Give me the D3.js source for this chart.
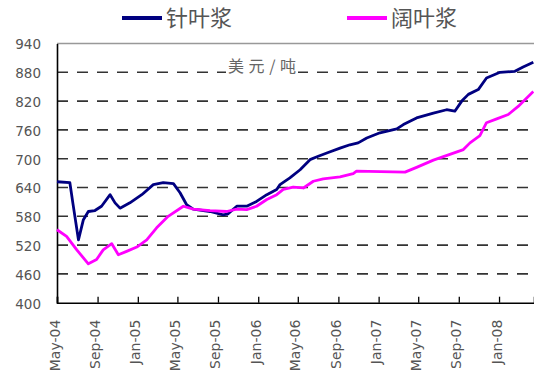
<!DOCTYPE html>
<html><head><meta charset="utf-8">
<script src="https://cdn.jsdelivr.net/npm/d3@7"></script>
<style>html,body{margin:0;padding:0;background:#fff;}svg{display:block;}</style>
</head><body>
<svg id="c" width="534" height="375"></svg>
<script>
// ---- data ----
const seriesNames = ["针叶浆", "阔叶浆"];
const unitLabel = "美元/吨";
const yTicks = [400, 460, 520, 580, 640, 700, 760, 820, 880, 940];
const xTickDates = ["2004-05-01","2004-09-01","2005-01-01","2005-05-01","2005-09-01","2006-01-01","2006-05-01","2006-09-01","2007-01-01","2007-05-01","2007-09-01","2008-01-01"];
const xTickLabels = ["May-04","Sep-04","Jan-05","May-05","Sep-05","Jan-06","May-06","Sep-06","Jan-07","May-07","Sep-07","Jan-08"];
const softwoodDates = ["2004-05-01","2004-06-09","2004-06-18","2004-07-05","2004-07-20","2004-08-04","2004-08-24","2004-09-13","2004-10-09","2004-10-24","2004-11-08","2004-12-08","2005-01-13","2005-02-17","2005-03-19","2005-04-19","2005-05-09","2005-05-29","2005-06-18","2005-08-08","2005-09-17","2005-10-01","2005-10-28","2005-11-27","2005-12-27","2006-01-27","2006-02-26","2006-03-08","2006-04-07","2006-05-08","2006-06-07","2006-07-02","2006-08-01","2006-09-06","2006-10-06","2006-10-31","2006-11-26","2007-01-05","2007-02-25","2007-03-17","2007-04-26","2007-06-16","2007-07-26","2007-08-20","2007-09-10","2007-09-30","2007-10-30","2007-11-24","2008-01-04","2008-02-18","2008-03-14","2008-04-14"];
const softwoodValues = [652,650,608,531,573,590,592,601,625,608,597,608,625,646,650,648,629,604,595,590,583,585,601,601,611,625,636,646,660,677,698,705,713,722,729,733,743,754,762,771,785,795,802,799,820,834,844,868,880,882,891,901];
const hardwoodDates = ["2004-05-01","2004-05-30","2004-06-30","2004-08-04","2004-08-29","2004-09-18","2004-10-14","2004-11-03","2004-11-28","2004-12-29","2005-01-28","2005-02-27","2005-04-03","2005-05-19","2005-06-18","2005-08-08","2005-09-27","2005-10-28","2005-11-27","2005-12-27","2006-01-27","2006-02-26","2006-03-18","2006-04-17","2006-05-18","2006-06-17","2006-07-17","2006-09-06","2006-10-16","2006-10-26","2007-03-22","2007-04-26","2007-06-16","2007-08-05","2007-09-15","2007-10-05","2007-11-04","2007-11-24","2007-12-25","2008-01-29","2008-02-28","2008-04-14"];
const hardwoodValues = [552,538,510,481,490,510,523,500,507,516,531,556,580,601,595,592,590,595,594,601,615,625,636,641,639,653,658,662,669,674,672,682,697,709,719,733,748,775,783,792,809,840];

// ---- layout ----
const W = 534, H = 375;
const L = 57, R = 534, T = 43.5, B = 302.7;
const parse = d3.timeParse("%Y-%m-%d");
const svg = d3.select("#c");

const x = d3.scaleTime().domain([parse("2004-05-01"), parse("2008-04-16")]).range([L, R]);
const y = d3.scaleLinear().domain([400, 940]).range([B, T]);

// gridlines
svg.append("g").selectAll("line").data(yTicks.filter(v => v > 400 && v < 940)).join("line")
  .attr("x1", L).attr("x2", R).attr("y1", d => y(d)).attr("y2", d => y(d))
  .attr("stroke", "#333").attr("stroke-width", 1.6).attr("stroke-dasharray", "11,9");

// top border
svg.append("line").attr("x1", L).attr("x2", R).attr("y1", T).attr("y2", T)
  .attr("stroke", "#999").attr("stroke-width", 1.5);

// unit label with white background
const ug = svg.append("g");
ug.append("rect").attr("x", 226).attr("y", 57).attr("width", 72).attr("height", 18).attr("fill", "#fff");
ug.append("text").attr("x", 228).attr("y", 72).attr("font-family", "Noto Sans CJK SC").attr("font-size", 16)
  .attr("fill", "#666").attr("textLength", 68).attr("lengthAdjust", "spacing").text(unitLabel);

// axes
const yAxis = svg.append("g").attr("transform", `translate(${L},0)`)
  .call(d3.axisLeft(y).tickValues(yTicks).tickSize(0).tickPadding(16));
yAxis.select(".domain").attr("stroke", "#000").attr("stroke-width", 1.6);
yAxis.selectAll("text").attr("font-family", "DejaVu Sans").attr("font-size", 13.5).attr("fill", "#555").attr("dy", "0.4em");

const xAxis = svg.append("g").attr("transform", `translate(0,${B})`)
  .call(d3.axisBottom(x).tickValues(xTickDates.map(parse)).tickSize(-6).tickFormat((d, i) => xTickLabels[i]));
xAxis.select(".domain").attr("stroke", "#000").attr("stroke-width", 1.6);
xAxis.selectAll(".tick line").attr("stroke", "#000").attr("stroke-width", 1.3);
xAxis.selectAll("text")
  .attr("font-family", "DejaVu Sans").attr("font-size", 14).attr("fill", "#555")
  .attr("text-anchor", "end").attr("dominant-baseline", "middle")
  .attr("transform", "translate(-2,17) rotate(-90)").attr("x", 0).attr("y", 0).attr("dy", null);

// lines
const line = d3.line().x(d => x(d.date)).y(d => y(d.v));
const sw = softwoodDates.map((d, i) => ({date: parse(d), v: softwoodValues[i]}));
const hw = hardwoodDates.map((d, i) => ({date: parse(d), v: hardwoodValues[i]}));
svg.append("path").datum(sw).attr("d", line).attr("fill", "none").attr("stroke", "#000080")
  .attr("stroke-width", 2.8).attr("stroke-linejoin", "round");
svg.append("path").datum(hw).attr("d", line).attr("fill", "none").attr("stroke", "#ff00ff")
  .attr("stroke-width", 2.8).attr("stroke-linejoin", "round");

// legend
const legend = [
  {name: seriesNames[0], color: "#000080", x0: 122},
  {name: seriesNames[1], color: "#ff00ff", x0: 347}
];
const lg = svg.append("g").selectAll("g").data(legend).join("g");
lg.append("line").attr("x1", d => d.x0).attr("x2", d => d.x0 + 40).attr("y1", 18).attr("y2", 18)
  .attr("stroke", d => d.color).attr("stroke-width", 4);
lg.append("text").attr("x", d => d.x0 + 44).attr("y", 18).attr("dy", "0.36em")
  .attr("font-family", "Noto Sans CJK SC").attr("font-size", 22).attr("fill", "#555")
  .text(d => d.name);
</script>
</body></html>
